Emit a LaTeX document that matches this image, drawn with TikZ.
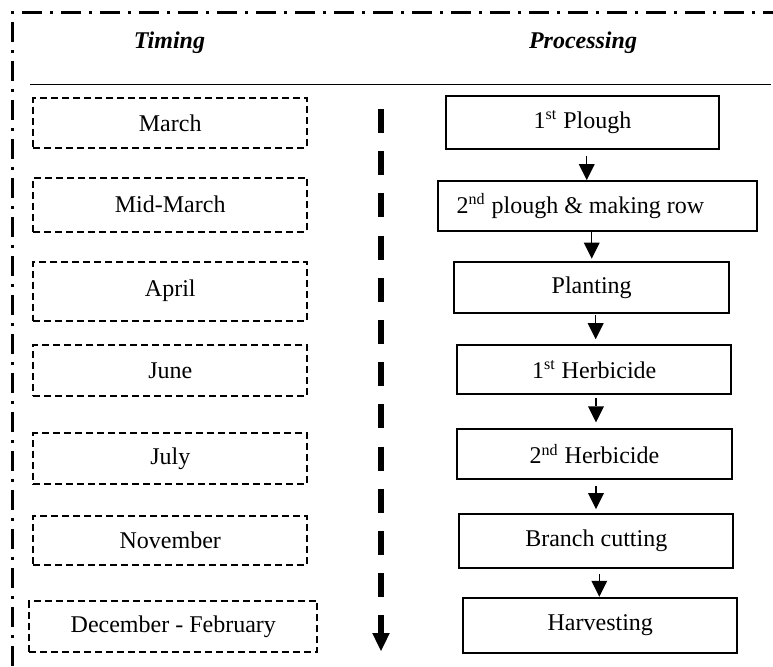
\documentclass[tikz,border=0pt]{standalone}
\usepackage{fontspec}
\setmainfont{Liberation Serif}
\usetikzlibrary{arrows.meta}
\begin{document}
\begin{tikzpicture}[x=0.5pt,y=-0.5pt,
  every node/.style={font=\fontsize{12}{14}\selectfont},
  sz/.style 2 args={minimum width=#1*0.5pt, minimum height=#2*0.5pt},
  timebox/.style={draw, line width=0.9pt, dash pattern=on 3.5pt off 2pt, inner sep=0pt},
  procbox/.style={draw, line width=0.9pt, inner sep=0pt},
  flow/.style={line width=0.75pt, -{Triangle[length=8pt,width=8pt,line width=0pt]}},
  framestyle/.style={line width=1.2pt, dash pattern=on 10pt off 4pt on 1.5pt off 4pt},
  head/.style={font=\fontsize{12}{14}\selectfont\bfseries\itshape},
  timeline/.style={line width=2.8pt, dash pattern=on 12pt off 9.1pt,
    -{Triangle[length=9pt,width=8.8pt,line width=0pt]}}]
\useasboundingbox (0,0) rectangle (773,666);

% outer dash-dot frame (open towards the right and bottom)
\draw[framestyle] (12.5,666) -- (12.5,12.5) -- (773,12.5);

% column headings and rule
\node[head] (h1) at (169.5,43) {Timing};
\node[head] (h2) at (583,43) {Processing};
\draw[line width=0.7pt] (30,84.3) -- (770.7,84.3);

% timing column
\node[timebox, sz={273.7}{49.4}] (t1) at (170.2,123) {March};
\node[timebox, sz={273.7}{54}]   (t2) at (170.2,204.7) {Mid-March};
\node[timebox, sz={274}{59}]     (t3) at (170.3,291.2) {April};
\node[timebox, sz={274}{51}]     (t4) at (170.3,370.5) {June};
\node[timebox, sz={274}{50.7}]   (t5) at (170.3,458.7) {July};
\node[timebox, sz={274}{49}]     (t6) at (170.3,540.5) {November};
\node[timebox, sz={288}{51.3}]   (t7) at (173.3,626.7) {December - February};

% time axis
\coordinate (tl-start) at (381,109);
\coordinate (tl-end) at (381,651);
\draw[timeline] (tl-start) -- (tl-end);

% processing column
\node[procbox, sz={273}{53.3}]   (p1) at (582.5,122.3) {1\textsuperscript{st} Plough};
\node[procbox, sz={318.4}{50}]   (p2) at (597.5,206) {2\textsuperscript{nd} plough \& making row\hspace*{17pt}};
\node[procbox, sz={274.7}{50.4}] (p3) at (591.7,287.5) {Planting};
\node[procbox, sz={273.7}{49.3}] (p4) at (594.2,369.7) {1\textsuperscript{st} Herbicide};
\node[procbox, sz={274.4}{49.7}] (p5) at (594.5,454.2) {2\textsuperscript{nd} Herbicide};
\node[procbox, sz={274}{53.4}]   (p6) at (596.3,541) {Branch cutting};
\node[procbox, sz={274}{55}]     (p7) at (600.3,625.2) {Harvesting};

% flow arrows
\draw[flow, shorten <=3pt] ([xshift=2.1pt]p1.south) -- ([xshift=2.1pt]p1.south |- p2.north);
\draw[flow, shorten >=1.4pt] ([xshift=-2.9pt]p2.south) -- ([xshift=-2.9pt]p2.south |- p3.north);
\draw[flow, shorten <=0.5pt, shorten >=2.5pt] ([xshift=2pt]p3.south) -- ([xshift=2pt]p3.south |- p4.north);
\draw[flow, shorten <=1.2pt, shorten >=3pt] ([xshift=0.9pt]p4.south) -- ([xshift=0.9pt]p4.south |- p5.north);
\draw[flow, shorten <=3pt, shorten >=2.15pt] ([xshift=0.75pt]p5.south) -- ([xshift=0.75pt]p5.south |- p6.north);
\draw[flow, shorten <=2.65pt] ([xshift=1.5pt]p6.south) -- ([xshift=1.5pt]p6.south |- p7.north);
\end{tikzpicture}
\end{document}
